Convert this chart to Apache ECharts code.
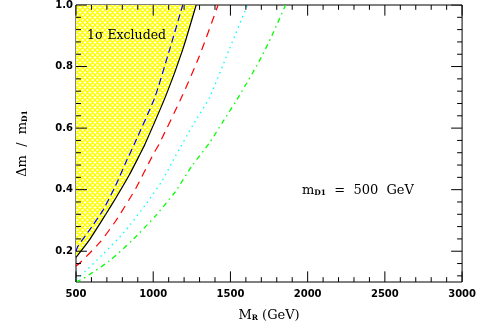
<!DOCTYPE html>
<html><head><meta charset="utf-8">
<script src="https://cdn.jsdelivr.net/npm/echarts@6/dist/echarts.min.js"></script>
<style>html,body{margin:0;padding:0;background:#fff}#c{width:479px;height:327px}</style>
</head><body><div id="c"></div>
<script>
// ---- data (M_R in GeV, Δm/m_D1) ----
const excludedMR = [500, 586, 693, 758, 843, 908, 945, 1084, 1191, 1278];
const excludedDm = [0.18, 0.236, 0.32, 0.373, 0.446, 0.509, 0.546, 0.708, 0.855, 1.0];
const blueMR = [500, 511, 586, 672, 758, 822, 880, 1009, 1106, 1191];
const blueDm = [0.20, 0.215, 0.268, 0.331, 0.415, 0.488, 0.551, 0.698, 0.855, 1.0];
const redMR = [500, 521, 650, 758, 887, 994, 1041, 1191, 1299, 1420];
const redDm = [0.152, 0.160, 0.226, 0.299, 0.404, 0.509, 0.551, 0.708, 0.834, 1.0];
const cyanMR = [500, 521, 672, 822, 951, 1059, 1144, 1256, 1363, 1492, 1610];
const cyanDm = [0.11, 0.116, 0.189, 0.268, 0.352, 0.430, 0.509, 0.609, 0.698, 0.855, 1.0];
const greenMR = [500, 543, 715, 865, 1015, 1144, 1252, 1363, 1449, 1557, 1686, 1771, 1857];
const greenDm = [0.10, 0.110, 0.168, 0.236, 0.315, 0.394, 0.478, 0.551, 0.619, 0.705, 0.817, 0.903, 1.0];
const xMajorTicks = [500, 1000, 1500, 2000, 2500, 3000];
const xMinorTicks = [];
for (let v = 600; v < 3000; v += 100) if (v % 500 !== 0) xMinorTicks.push(v);
const yMajorTicks = [0.2, 0.4, 0.6, 0.8, 1.0];
const yMinorTicks = [0.12, 0.16, 0.24, 0.28, 0.32, 0.36, 0.44, 0.48, 0.52, 0.56, 0.64, 0.68, 0.72, 0.76, 0.84, 0.88, 0.92, 0.96];

const X_MIN = 500, X_MAX = 3000, Y_MIN = 0.1, Y_MAX = 1.0;
const GRID = {left: 76, right: 15, top: 4, bottom: 37};
const W = 479 - GRID.left - GRID.right, H = 327 - GRID.top - GRID.bottom;
const pts = (xs, ys) => xs.map((x, i) => [x, ys[i]]);

// hatch pattern (yellow crosshatch)
const T = 5;
const pc = document.createElement('canvas');
pc.width = T; pc.height = T;
const g = pc.getContext('2d');
g.fillStyle = '#ffffff'; g.fillRect(0, 0, T, T);
g.strokeStyle = '#ffff00'; g.lineWidth = 1.5;
g.beginPath();
[-T, 0, T].forEach(o => {
  g.moveTo(o - 1, -1); g.lineTo(o + T + 1, T + 1);
  g.moveTo(o - 1, T + 1); g.lineTo(o + T + 1, -1);
});
g.stroke();

const tickFont = {fontFamily: 'DejaVu Sans', fontWeight: 'bold', fontSize: 10, color: '#000'};
const serif = 'DejaVu Serif';
const rich = {
  m: {fontFamily: serif, fontSize: 13, color: '#000', lineHeight: 16, verticalAlign: 'bottom'},
  s: {fontFamily: serif, fontSize: 7.5, fontWeight: 'bold', color: '#000', lineHeight: 9, verticalAlign: 'bottom'}
};

// tick marks on all four sides: short two-point line series in data space
const tickSeriesList = [];
function addTicks(values, isX, lenPx) {
  const dx = lenPx / W * (X_MAX - X_MIN), dy = lenPx / H * (Y_MAX - Y_MIN);
  values.forEach(v => {
    const segs = isX
      ? [[[v, Y_MIN], [v, Y_MIN + dy]], [[v, Y_MAX], [v, Y_MAX - dy]]]
      : [[[X_MIN, v], [X_MIN + dx, v]], [[X_MAX, v], [X_MAX - dx, v]]];
    segs.forEach(s => tickSeriesList.push({type: 'line', data: s, showSymbol: false, silent: true,
      z: 5, lineStyle: {color: '#000', width: 1}}));
  });
}
addTicks(xMajorTicks, true, 11);
addTicks(xMinorTicks, true, 5);
addTicks(yMajorTicks, false, 11);
addTicks(yMinorTicks, false, 5);

const chart = echarts.init(document.getElementById('c'), null, {renderer: 'canvas'});
chart.setOption({
  animation: false,
  grid: Object.assign({show: true, borderColor: '#000', borderWidth: 1}, GRID),
  xAxis: {type: 'value', min: X_MIN, max: X_MAX, interval: 500,
    axisLine: {show: false}, axisTick: {show: false}, splitLine: {show: false},
    axisLabel: Object.assign({margin: 7, formatter: v => String(v)}, tickFont),
    name: '{m|M}{s|R}{m| (GeV)}', nameLocation: 'middle', nameGap: 24,
    nameTextStyle: {rich: rich}},
  yAxis: {type: 'value', min: Y_MIN, max: Y_MAX,
    axisLine: {show: false}, axisTick: {show: false}, splitLine: {show: false},
    axisLabel: Object.assign({margin: 3, customValues: yMajorTicks, formatter: v => v.toFixed(1)}, tickFont),
    name: '{m|Δm  /  m}{s|D1}', nameLocation: 'middle', nameGap: 47,
    nameTextStyle: {rich: rich}},
  series: [
    {type: 'line', data: pts(excludedMR, excludedDm), showSymbol: false, smooth: 0.2,
      lineStyle: {color: '#000', width: 1.2},
      areaStyle: {origin: 'end', opacity: 1, color: {image: pc, repeat: 'repeat'}}, z: 2},
    {type: 'line', data: pts(blueMR, blueDm), showSymbol: false, smooth: 0.2,
      lineStyle: {color: '#0000ff', width: 1.2, type: [7, 4]}, z: 3},
    {type: 'line', data: pts(redMR, redDm), showSymbol: false, smooth: 0.2,
      lineStyle: {color: '#ff0000', width: 1.2, type: [8, 6]}, z: 3},
    {type: 'line', data: pts(cyanMR, cyanDm), showSymbol: false, smooth: 0.2,
      lineStyle: {color: '#00ffff', width: 1.3, type: [1.5, 4]}, z: 3},
    {type: 'line', data: pts(greenMR, greenDm), showSymbol: false, smooth: 0.2,
      lineStyle: {color: '#00ff00', width: 1.3, type: [5, 4, 1.5, 4]}, z: 3}
  ].concat(tickSeriesList)
});

const p1 = chart.convertToPixel({xAxisIndex: 0, yAxisIndex: 0}, [571, 0.896]);
const p2 = chart.convertToPixel({xAxisIndex: 0, yAxisIndex: 0}, [1963, 0.39]);
chart.setOption({graphic: [
  {type: 'text', left: p1[0], top: p1[1] - 8, z: 10,
    style: {text: '1σ Excluded', font: '12.5px "DejaVu Serif"', fill: '#000'}},
  {type: 'text', left: p2[0], top: p2[1] - 9, z: 10,
    style: {text: '{m|m}{s|D1}{m|  =  500  GeV}', fill: '#000', rich: {
      m: {fontFamily: serif, fontSize: 13, fill: '#000', lineHeight: 16, verticalAlign: 'bottom'},
      s: {fontFamily: serif, fontSize: 7.5, fontWeight: 'bold', fill: '#000', lineHeight: 9, verticalAlign: 'bottom'}}}}
]});
</script></body></html>
